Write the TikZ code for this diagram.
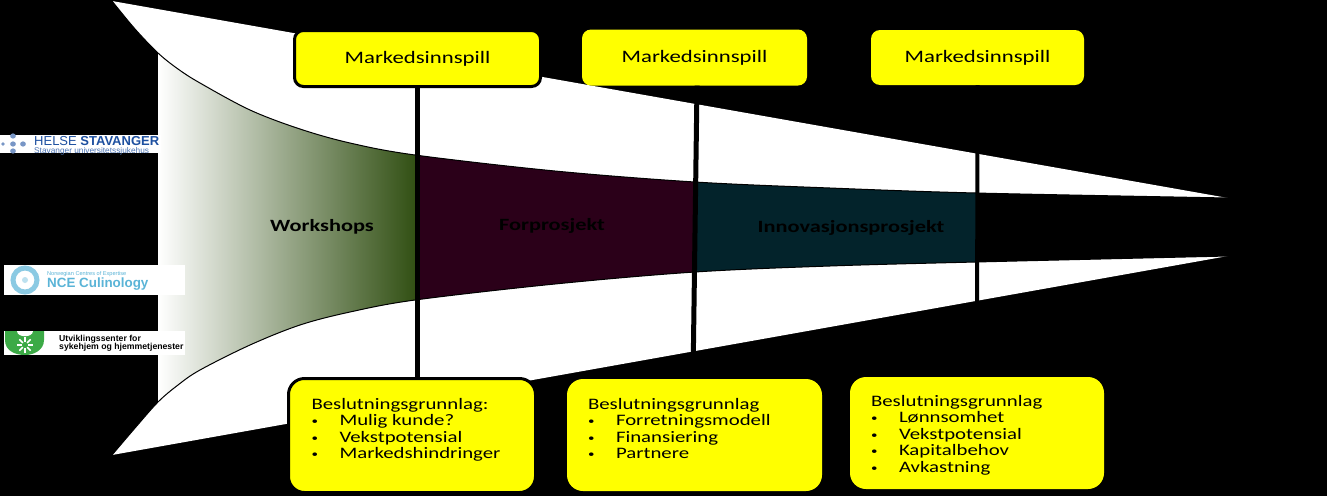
\documentclass[tikz,border=0pt]{standalone}
\usepackage{fontspec}
\setmainfont{Carlito}
\newfontfamily\stretchfont[FakeStretch=1.3]{Carlito}
\newfontfamily\logofont{Liberation Sans}
\usetikzlibrary{calc}
\definecolor{moss}{RGB}{50,80,20}
\definecolor{wine}{RGB}{43,0,25}
\definecolor{petrol}{RGB}{3,35,43}
\definecolor{sunny}{RGB}{255,255,0}
\definecolor{helse}{RGB}{30,80,160}
\definecolor{ncecol}{RGB}{90,180,215}
\definecolor{usgreen}{RGB}{60,170,70}
\newcommand\topcurve{(112,1) (135,29) (158,53) (178,69) (200,83) (250,110) (300,129) (350,143) (415,155) (555,171) (695,182) (830,188) (976,193) (1228,198)}
\newcommand\botcurve{(1228,256) (976,262) (830,266) (695,272) (555,284) (415,300) (350,312) (300,325) (250,345) (200,370) (178,385) (158,402) (135,428) (112,455)}
\newcommand\bitem[1]{\makebox[28pt][l]{\raisebox{1pt}{\fontsize{10}{10}\selectfont•}}#1\\}
\newcommand\boxtext[3]{\parbox[c][#1][t]{#2}{\stretchfont\fontsize{16}{16.5}\selectfont #3}}
\tikzset{
  x=1pt,y=-1pt,
  market/.style={fill=sunny,rounded corners=9pt,inner sep=0pt,align=center,font=\stretchfont\fontsize{17.5}{18}\selectfont},
  basis/.style={fill=sunny,rounded corners=16pt,inner sep=0pt},
  edged/.style={draw=black,line width=3pt},
  gate/.style={draw=black,line width=5pt},
  stage/.style={font=\stretchfont\bfseries\fontsize{17.2}{18}\selectfont,text=black,inner sep=0pt},
  logo/.style={fill=white,inner sep=0pt}
}
\begin{document}
\begin{tikzpicture}
\useasboundingbox (0,0) rectangle (1327,496);
\fill[black] (0,0) rectangle (1327,496);
% white funnel
\fill[white] (112,1) -- (1228,198) -- (1228,256) -- (112,455) -- cycle;
% inner channel
\begin{scope}
\clip plot[smooth,tension=.55] coordinates {\topcurve} -- plot[smooth,tension=.55] coordinates {\botcurve} -- cycle;
\fill[black] (112,0) rectangle (158,496);
\shade[left color=white,right color=moss] (158,0) rectangle (415,496);
\fill[wine] (415,0) rectangle (695,496);
\fill[petrol] (695,0) rectangle (976,496);
\fill[black] (976,0) rectangle (1300,496);
\end{scope}
% curve outlines
\draw[black,line width=1pt] plot[smooth,tension=.55] coordinates {\topcurve};
\draw[black,line width=1pt] plot[smooth,tension=.55] coordinates {\botcurve};
\draw[black,line width=1.5pt] (1228.5,198) -- (1228.5,256);
% boxes
\node[market,edged,minimum width=246pt,minimum height=56pt] (m1) at (417.5,58.5) {Markedsinnspill};
\node[market,minimum width=225pt,minimum height=56pt] (m2) at (694.5,57.5) {Markedsinnspill};
\node[market,minimum width=213pt,minimum height=55pt] (m3) at (977.5,57.5) {Markedsinnspill};
\node[basis,edged,minimum width=247pt,minimum height=114pt] (b1) at (412,435.5) {\boxtext{114pt}{201pt}{\vspace{19.5pt}Beslutningsgrunnlag:\\\bitem{Mulig kunde?}\bitem{Vekstpotensial}\bitem{Markedshindringer}}};
\node[basis,minimum width=255pt,minimum height=112pt] (b2) at (694.5,435) {\boxtext{112pt}{213pt}{\vspace{19pt}Beslutningsgrunnlag\\\bitem{Forretningsmodell}\bitem{Finansiering}\bitem{Partnere}}};
\node[basis,minimum width=254pt,minimum height=112pt] (b3) at (977,433) {\boxtext{112pt}{212pt}{\vspace{18pt}Beslutningsgrunnlag\\\bitem{Lønnsomhet}\bitem{Vekstpotensial}\bitem{Kapitalbehov}\bitem{Avkastning}}};
% gates
\draw[gate] (m1.south) -- (m1.south |- b1.north);
\draw[gate] ([xshift=2.5pt]m2.south) -- ([xshift=-1.5pt]b2.north);
\draw[gate,line width=4pt] (m3.south) -- (b3.north);
% stages
\node[stage] (s1) at (322,227) {Workshops};
\node[stage] (s2) at (552,226) {Forprosjekt};
\node[stage] (s3) at (851,228) {Innovasjonsprosjekt};
% logos
\node[logo,minimum width=161pt,minimum height=18pt] (l1) at (80.5,144) {};
\foreach \px/\py/\r in {3/144/1.8,13/136/2.6,13/144/2.6,13/151/2.6,23/144/2.6}
  \fill[helse!60!white] (\px,\py) ellipse ({\r*1.1} and \r);
\node[inner sep=0pt,anchor=west,text=helse,font=\logofont\fontsize{13}{12}\selectfont] (l1a) at (34,141) {HELSE \textbf{STAVANGER}};
\node[inner sep=0pt,anchor=north west,text=helse!80!white,font=\logofont\fontsize{8.3}{8}\selectfont] (l1b) at (34,147.5) {Stavanger universitetssjukehus};
\node[logo,minimum width=181pt,minimum height=30pt] (l2) at (94.5,280) {};
\draw[ncecol!70!white,line width=5pt] (25,280) circle (12);
\fill[ncecol!40!white] (25,280) circle (3);
\node[inner sep=0pt,anchor=west,text=ncecol,font=\logofont\fontsize{5.6}{6}\selectfont] (l2a) at (47,274.5) {Norwegian Centres of Expertise};
\node[inner sep=0pt,anchor=west,text=ncecol,font=\logofont\bfseries\fontsize{13.4}{13}\selectfont] (l2b) at (47,284) {NCE Culinology};
\node[logo,minimum width=181pt,minimum height=24pt] (l3) at (94.5,343) {};
\fill[usgreen] (5,331) -- (44,331) -- (44,340) .. controls (44,350) and (34,355) .. (25,355) .. controls (14,355) and (5,350) .. (5,340) -- cycle;
\fill[white] (17,331) .. controls (17,338) and (33,338) .. (33,331) -- cycle;
\foreach \a in {0,45,...,315} \draw[white,line width=1.6pt] (25,345)+(\a:3) -- +(\a:8);
\node[inner sep=0pt,anchor=west,align=left,font=\logofont\bfseries\fontsize{8.7}{8.2}\selectfont] (l3a) at (59,343) {Utviklingssenter for\\sykehjem og hjemmetjenester};
\end{tikzpicture}
\end{document}
